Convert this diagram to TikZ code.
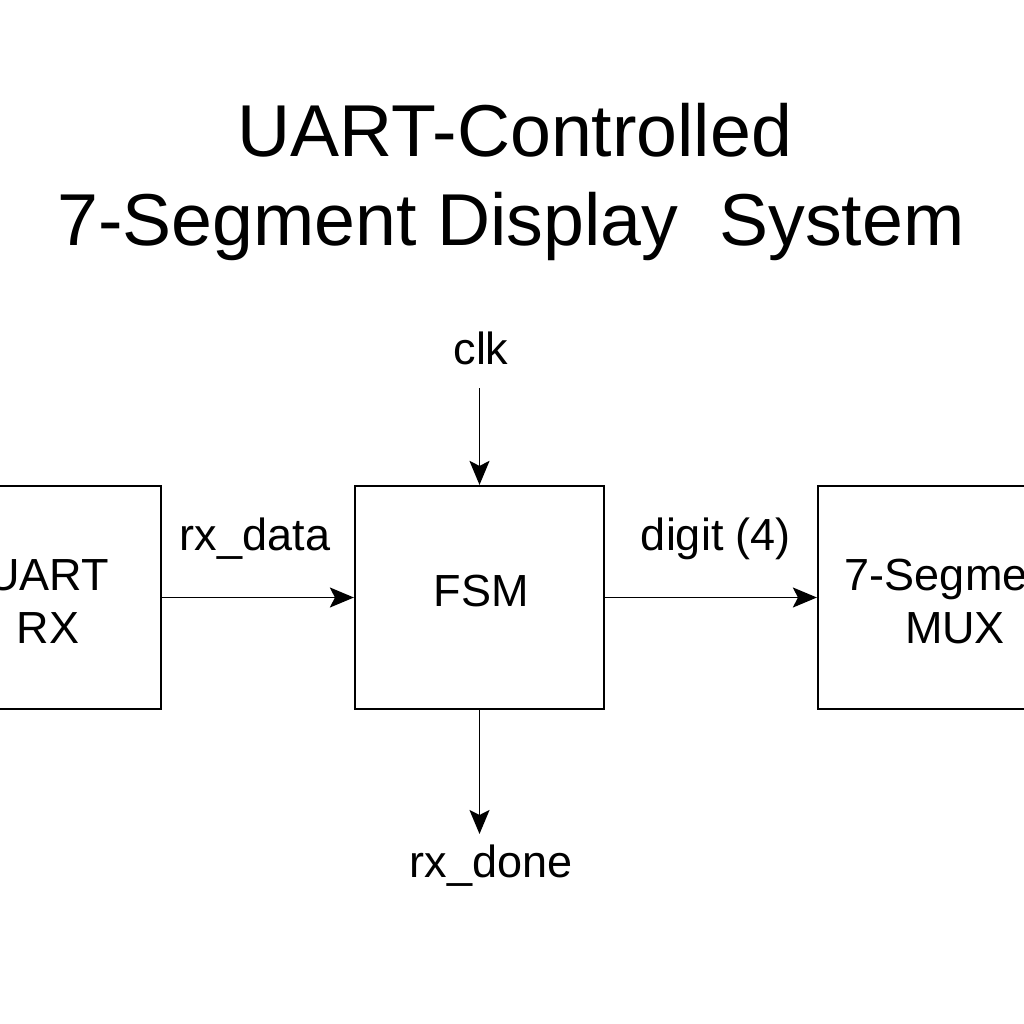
\documentclass[tikz,border=0pt]{standalone}
\usepackage{fontspec}
\setmainfont{Liberation Sans}
\usetikzlibrary{arrows.meta}
\begin{document}
\begin{tikzpicture}[x=1pt,y=-1pt]
\tikzset{
  box/.style={draw, line width=2.2pt, minimum height=223pt, inner sep=0pt},
  lbl/.style={font=\fontsize{45}{53}\selectfont, anchor=base, inner sep=0pt},
  ttl/.style={font=\fontsize{73.5}{88}\selectfont, anchor=base, inner sep=0pt},
  arr/.style={-{Stealth[length=24pt,width=20pt,inset=5pt]}, line width=1.7pt}
}
\useasboundingbox (0,0) rectangle (1024,1024);
\clip (0,0) rectangle (1024,1024);
\fill[white] (0,0) rectangle (1024,1024);
% title
\node[ttl] (title1) at (515,157) {UART-Controlled};
\node[ttl] (title2) at (511,245) {7-Segment Display~~System};
% boxes
\node[box, minimum width=226pt] (uart) at (48,597.5) {};
\node[box, minimum width=249pt] (fsm) at (479.5,597.5) {};
\node[box, minimum width=274pt] (mux) at (955,597.5) {};
% box texts
\node[lbl] (uart1) at (48,590) {UART};
\node[lbl] (uart2) at (48,643) {RX};
\node[lbl] (fsmt) at (481,606) {FSM};
\node[lbl] (mux1) at (955,590) {7-Segment};
\node[lbl] (mux2) at (955,643) {MUX};
% signal labels
\node[lbl] (rxdata) at (255,550) {rx\_data};
\node[lbl] (digit) at (716,550) {digit (4)};
\node[lbl] (clk) at (481,364) {clk};
\node[lbl] (rxdone) at (491,877) {rx\_done};
\coordinate (clkstart) at (479.5,388);
\coordinate (doneend) at (479.5,834);
% connectors
\draw[arr] (uart.east) -- (fsm.west);
\draw[arr] (fsm.east) -- (mux.west);
\draw[arr] (clkstart) -- (fsm.north);
\draw[arr] (fsm.south) -- (doneend);
\end{tikzpicture}
\end{document}
